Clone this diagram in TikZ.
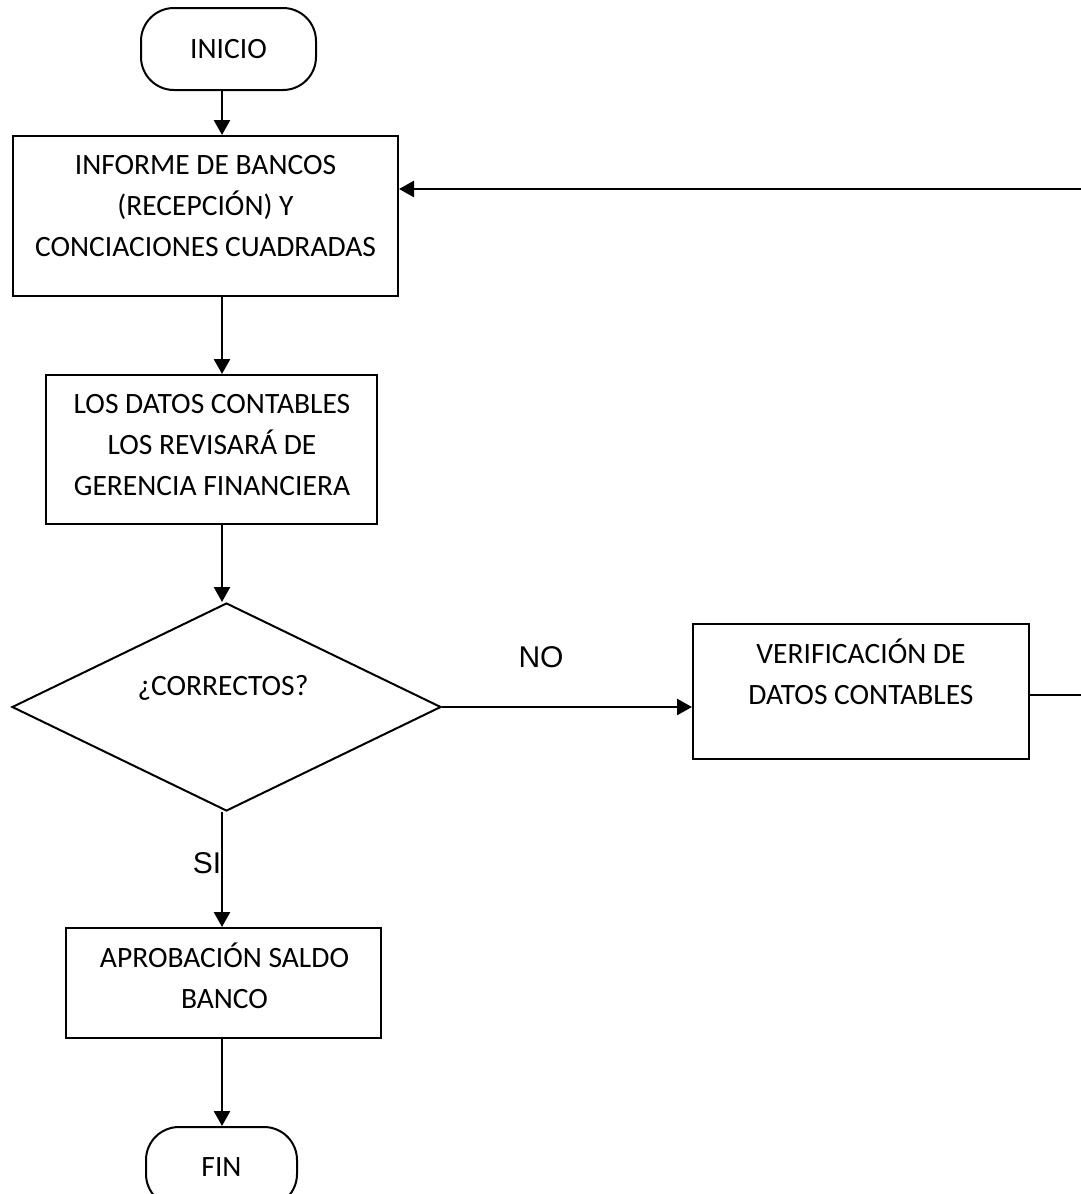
\documentclass[tikz,border=0pt]{standalone}
\usepackage{fontspec}
\setmainfont{Carlito}
\newfontfamily\labelfont{Liberation Sans}
\usetikzlibrary{shapes.geometric,arrows.meta}

\tikzset{
  boxline/.style={draw, line width=2pt, inner sep=0pt},
  procbox/.style={boxline, rectangle},
  termbox/.style={boxline, rectangle, rounded corners=33pt,
    font=\fontsize{29.5}{41}\selectfont},
  decbox/.style={boxline, diamond},
  boxtext/.style={inner sep=0pt, anchor=base, font=\fontsize{29.5}{41}\selectfont},
  branchlabel/.style={inner sep=0pt, anchor=base, font=\labelfont\fontsize{30}{36}\selectfont},
  flow/.style={line width=2.6pt, -{Triangle[length=15pt,width=16pt]}},
  plainflow/.style={line width=1.9pt},
}

% multi-line box text; the base anchor sits on the first line
\newcommand{\boxlines}[1]{\begin{tabular}[t]{@{}c@{}}#1\end{tabular}}

\begin{document}
\begin{tikzpicture}[x=1pt, y=-1pt]
  \fill[white] (0,0) rectangle (1080,1194);
  \useasboundingbox (0,0) rectangle (1080,1194);

  % main vertical axis of the flow
  \coordinate (spine) at (222,0);

  % start / end terminals
  \node[termbox, minimum width=175pt, minimum height=82pt] (inicio) at (228.5,49) {INICIO};
  \node[termbox, minimum width=151pt, minimum height=80pt] (fin) at (221.5,1167) {FIN};

  % process boxes
  \node[procbox, minimum width=385pt, minimum height=160pt] (informe) at (205.5,216) {};
  \node[boxtext] (informe-t) at (205.5,174)
    {\boxlines{INFORME DE BANCOS\\(RECEPCIÓN) Y\\CONCIACIONES CUADRADAS}};

  \node[procbox, minimum width=331pt, minimum height=149pt] (datos) at (211.5,449.5) {};
  \node[boxtext] (datos-t) at (212,413)
    {\boxlines{LOS DATOS CONTABLES\\LOS REVISARÁ DE\\GERENCIA FINANCIERA}};

  \node[decbox, minimum width=429pt, minimum height=208pt] (dec) at (226.5,707) {};
  \node[boxtext] (dec-t) at (223,695) {¿CORRECTOS?};

  \node[procbox, minimum width=336pt, minimum height=135pt] (verif) at (861,691.5) {};
  \node[boxtext] (verif-t) at (861,663)
    {\boxlines{VERIFICACIÓN DE\\DATOS CONTABLES}};

  \node[procbox, minimum width=315pt, minimum height=110pt] (aprob) at (223.5,983) {};
  \node[boxtext] (aprob-t) at (224.5,967)
    {\boxlines{APROBACIÓN SALDO\\BANCO}};

  % branch labels
  \node[branchlabel] (no-lbl) at (541,667) {NO};
  \node[branchlabel] (si-lbl) at (207,873) {SI};

  % return path from the verification back to the bank report
  \coordinate (ret) at (1083,695);
  \coordinate (rettop) at (1083,189);

  % connectors
  \draw[flow] (inicio.south -| spine) -- (informe.north -| spine);
  \draw[flow] (informe.south -| spine) -- (datos.north -| spine);
  \draw[flow] (datos.south -| spine) -- (dec.north -| spine);
  \draw[flow] (dec.east) -- (dec.east -| verif.west);
  \draw[plainflow] (verif.east |- ret) -- (ret);
  \draw[flow] (ret) -- (rettop) -- (rettop -| informe.east);
  \draw[flow] (dec.south -| spine) -- (aprob.north -| spine);
  \draw[flow] (aprob.south -| spine) -- (fin.north -| spine);
\end{tikzpicture}
\end{document}
